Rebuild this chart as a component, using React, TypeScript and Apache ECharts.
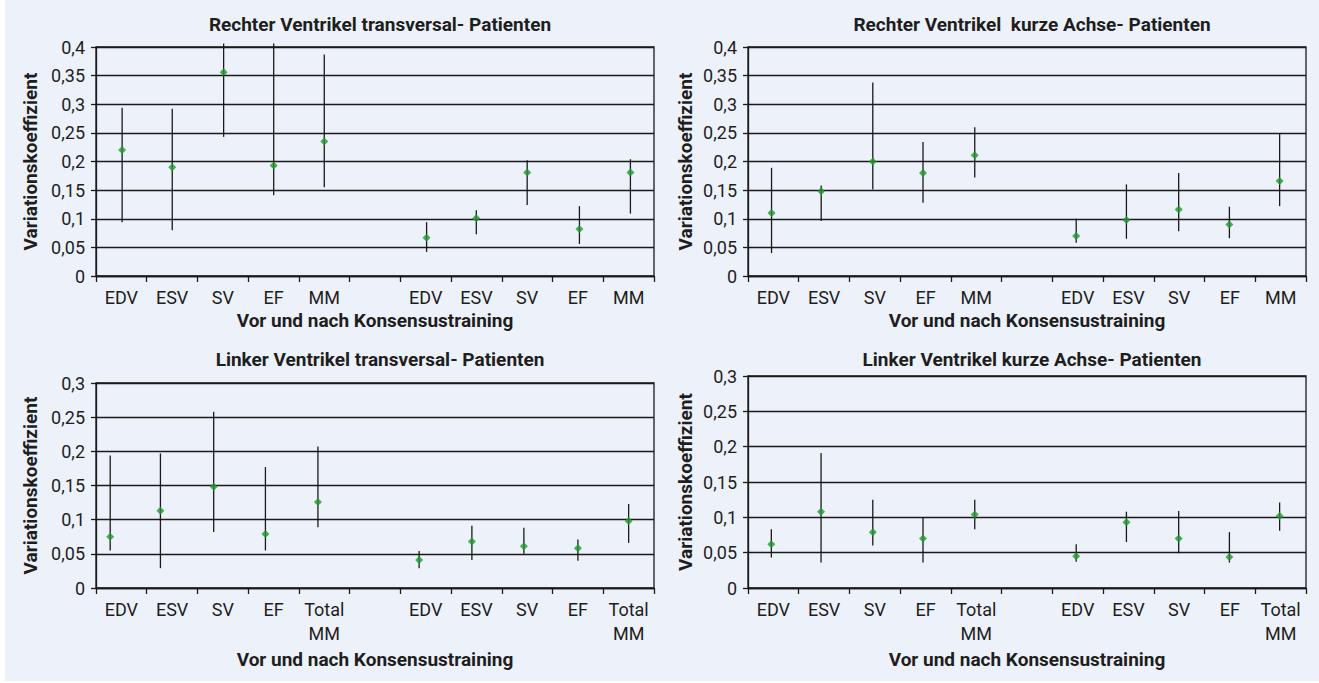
import React, { useEffect, useRef } from "react";
import * as echarts from "echarts";

// ---- Data ----
const catsTop = ["EDV", "ESV", "SV", "EF", "MM", "", "EDV", "ESV", "SV", "EF", "MM"];
const catsBottom = ["EDV", "ESV", "SV", "EF", "Total\nMM", "", "EDV", "ESV", "SV", "EF", "Total\nMM"];

const titles = [
  "Rechter Ventrikel transversal- Patienten",
  "Rechter Ventrikel  kurze Achse- Patienten",
  "Linker Ventrikel transversal- Patienten",
  "Linker Ventrikel kurze Achse- Patienten",
];
const xAxisName = "Vor und nach Konsensustraining";
const yAxisName = "Variationskoeffizient";
const yMax = [0.4, 0.4, 0.3, 0.3];

// positions of marks along the category band (category units)
const rvtPos = [0.515, 1.503, 2.516, 3.503, 4.5, 6.517, 7.497, 8.5, 9.53, 10.535];
const rvtMean = [0.22, 0.19, 0.356, 0.193, 0.235, 0.067, 0.101, 0.181, 0.082, 0.181];
const rvtLow = [0.094, 0.08, 0.243, 0.141, 0.155, 0.042, 0.073, 0.124, 0.056, 0.109];
const rvtHigh = [0.294, 0.292, 0.406, 0.406, 0.387, 0.094, 0.115, 0.202, 0.122, 0.204];

const rvkPos = [0.464, 1.443, 2.46, 3.45, 4.47, 6.47, 7.46, 8.49, 9.49, 10.48];
const rvkMean = [0.11, 0.148, 0.2, 0.18, 0.211, 0.07, 0.098, 0.116, 0.09, 0.166];
const rvkLow = [0.04, 0.096, 0.151, 0.128, 0.172, 0.058, 0.065, 0.078, 0.066, 0.122];
const rvkHigh = [0.189, 0.158, 0.338, 0.234, 0.26, 0.1, 0.16, 0.18, 0.121, 0.249];

const lvtPos = [0.28, 1.27, 2.32, 3.34, 4.375, 6.37, 7.41, 8.435, 9.5, 10.5];
const lvtMean = [0.075, 0.113, 0.148, 0.079, 0.126, 0.041, 0.068, 0.061, 0.058, 0.098];
const lvtLow = [0.055, 0.029, 0.082, 0.055, 0.089, 0.029, 0.041, 0.05, 0.04, 0.066];
const lvtHigh = [0.194, 0.197, 0.258, 0.177, 0.207, 0.054, 0.091, 0.088, 0.071, 0.123];

const lvkPos = [0.46, 1.44, 2.46, 3.45, 4.47, 6.47, 7.46, 8.49, 9.49, 10.48];
const lvkMean = [0.062, 0.108, 0.079, 0.07, 0.104, 0.045, 0.093, 0.07, 0.044, 0.102];
const lvkLow = [0.043, 0.036, 0.06, 0.036, 0.083, 0.037, 0.065, 0.049, 0.036, 0.081];
const lvkHigh = [0.083, 0.191, 0.125, 0.1, 0.125, 0.062, 0.108, 0.109, 0.079, 0.121];

const panels = [
  { pos: rvtPos, mean: rvtMean, low: rvtLow, high: rvtHigh, cats: catsTop },
  { pos: rvkPos, mean: rvkMean, low: rvkLow, high: rvkHigh, cats: catsTop },
  { pos: lvtPos, mean: lvtMean, low: lvtLow, high: lvtHigh, cats: catsBottom },
  { pos: lvkPos, mean: lvkMean, low: lvkLow, high: lvkHigh, cats: catsBottom },
];

// ---- Layout ----
const grids = [
  { left: 96, top: 47, width: 558, height: 229 },
  { left: 748, top: 47, width: 558, height: 229 },
  { left: 96, top: 383, width: 558, height: 205 },
  { left: 748, top: 376, width: 558, height: 212 },
];
const titleTops = [10, 10, 345, 345];
const xNameGaps = [35, 35, 62, 62];
const yNameGaps = [56, 53, 56, 53];

const FONT = "Roboto, 'Open Sans', sans-serif";
const TEXT = "#1e1e1e";
const LINE = "#1a1a1a";

const fmt = (v: number) =>
  v === 0 ? "0" : v.toFixed(2).replace(/0$/, "").replace(".", ",");

export default function App() {
  const ref = useRef<HTMLDivElement>(null);
  useEffect(() => {
    if (!ref.current) return;
    const chart = echarts.init(ref.current, undefined, { renderer: "svg" });

    const xAxes: any[] = [];
    const yAxes: any[] = [];
    const series: any[] = [];
    panels.forEach((p, i) => {
      xAxes.push({
        type: "category",
        gridIndex: i,
        data: p.cats,
        boundaryGap: true,
        axisLine: { show: true, lineStyle: { color: LINE, width: 1.3 } },
        axisTick: { show: true, interval: 0, length: 6, lineStyle: { color: LINE, width: 1.3 } },
        axisLabel: {
          interval: 0,
          margin: 9,
          fontSize: 18,
          lineHeight: 24,
          color: TEXT,
          fontFamily: FONT,
        },
        splitLine: { show: false },
        name: xAxisName,
        nameLocation: "middle",
        nameGap: xNameGaps[i],
        nameTextStyle: { fontSize: 19, fontWeight: "bold", color: TEXT, fontFamily: FONT },
      });
      xAxes.push({
        type: "value",
        gridIndex: i,
        min: 0,
        max: 11,
        show: false,
      });
      yAxes.push({
        type: "value",
        gridIndex: i,
        min: 0,
        max: yMax[i],
        interval: 0.05,
        axisLine: { show: true, lineStyle: { color: LINE, width: 1.3 } },
        axisTick: { show: true, length: 5, lineStyle: { color: LINE, width: 1.3 } },
        axisLabel: {
          formatter: fmt,
          margin: 11,
          fontSize: 18,
          color: TEXT,
          fontFamily: FONT,
        },
        splitLine: { show: true, lineStyle: { color: LINE, width: 1.3 } },
        name: yAxisName,
        nameLocation: "middle",
        nameGap: yNameGaps[i],
        nameTextStyle: { fontSize: 19, fontWeight: "bold", color: TEXT, fontFamily: FONT },
      });
      series.push({
        type: "custom",
        xAxisIndex: 2 * i + 1,
        yAxisIndex: i,
        clip: false,
        encode: { x: 0, y: [1, 2] },
        data: p.pos.map((x, k) => [x, p.low[k], p.high[k]]),
        renderItem: (_params: any, api: any) => {
          const a = api.coord([api.value(0), api.value(1)]);
          const b = api.coord([api.value(0), api.value(2)]);
          return {
            type: "line",
            shape: { x1: a[0], y1: a[1], x2: b[0], y2: b[1] },
            style: { stroke: LINE, lineWidth: 1.3 },
          };
        },
        z: 3,
      });
      series.push({
        type: "scatter",
        xAxisIndex: 2 * i + 1,
        yAxisIndex: i,
        symbol: "diamond",
        symbolSize: 8,
        itemStyle: { color: "#1f9a2e" },
        data: p.pos.map((x, k) => [x, p.mean[k]]),
        z: 4,
      });
    });

    chart.setOption({
      animation: false,
      backgroundColor: "#ffffff",
      graphic: [
        {
          type: "rect",
          z: -10,
          shape: { x: 5, y: 0, width: 1314, height: 681 },
          style: { fill: "#edf1f9" },
          silent: true,
        },
      ],
      title: titles.map((t, i) => ({
        text: t,
        left: grids[i].left + grids[i].width / 2,
        top: titleTops[i],
        textAlign: "center",
        textStyle: { fontSize: 19, fontWeight: "bold", color: TEXT, fontFamily: FONT },
      })),
      grid: grids.map((g) => ({
        ...g,
        show: true,
        borderColor: LINE,
        borderWidth: 1.3,
        backgroundColor: "transparent",
        containLabel: false,
      })),
      xAxis: xAxes,
      yAxis: yAxes,
      series,
    });
    return () => chart.dispose();
  }, []);

  return (
    <div
      ref={ref}
      style={{ position: "absolute", left: 0, top: 0, width: 1319, height: 683 }}
    />
  );
}
